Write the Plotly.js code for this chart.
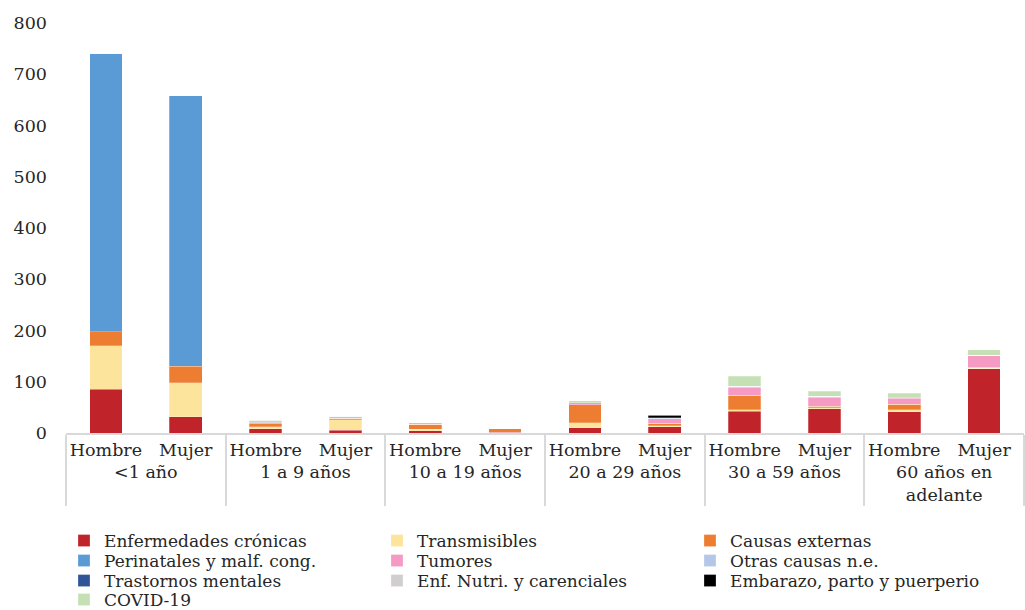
<!DOCTYPE html>
<html>
<head>
<meta charset="utf-8">
<script src="https://cdn.plot.ly/plotly-3.0.1.min.js"></script>
<style>html,body{margin:0;padding:0;background:#fff;}#chart{width:1025px;height:610px;}</style>
</head>
<body>
<div id="chart"></div>
<script>
// Age groups and sexes (x axis categories)
const ageGroups = ['<1 año', '1 a 9 años', '10 a 19 años', '20 a 29 años', '30 a 59 años', '60 años en<br>adelante'];
const sexes = ['Hombre', 'Mujer'];

// Values per bar, order: each age group -> Hombre, Mujer
const cronicas     = [85, 32, 8, 5, 4, 1, 10, 12, 42, 47, 41, 125];
const transmisibles= [85, 66, 4, 21, 3, 0, 10, 2, 3, 2, 4, 1];
const externas     = [28, 32, 6, 2.5, 10, 7, 35, 5, 29, 3, 11, 2];
const perinatales  = [543, 528, 0, 0, 0, 0, 0, 0, 0, 0, 0, 0];
const tumores      = [0, 0, 2, 0, 0, 0, 4.5, 8.5, 15, 18, 12, 23];
const otras        = [0, 0, 0, 4, 3, 0, 0, 1, 2.5, 2, 1, 1];
const trastornos   = [0, 0, 0, 0, 0, 0, 0, 1, 0, 0, 0, 0];
const nutri        = [0, 0, 5, 0, 0, 0, 0, 0, 0, 0, 0, 0];
const embarazo     = [0, 0, 0, 0, 0, 0, 0, 5, 0, 0, 0, 0];
const covid        = [0, 0, 0, 0, 0, 0, 3, 0, 19, 9, 9, 10];

const seriesNames = ['Enfermedades crónicas', 'Transmisibles', 'Causas externas',
  'Perinatales y malf. cong.', 'Tumores', 'Otras causas n.e.',
  'Trastornos mentales', 'Enf. Nutri. y carenciales', 'Embarazo, parto y puerperio', 'COVID-19'];
const seriesValues = [cronicas, transmisibles, externas, perinatales, tumores, otras, trastornos, nutri, embarazo, covid];
const seriesColors = ['#C0232A', '#FCE49C', '#ED7D31', '#5B9BD5', '#F49AC3', '#B4C7E7', '#2F5597', '#D0CECE', '#000000', '#C5E0B4'];

const xOuter = [], xInner = [];
ageGroups.forEach(g => sexes.forEach(s => { xOuter.push(g); xInner.push(s); }));

// legend rows: three entries per row, one Plotly legend per row
const legendIds = ['legend', 'legend2', 'legend3', 'legend4'];

const traces = seriesNames.map((name, i) => ({
  type: 'bar',
  name: name,
  x: [xOuter, xInner],
  y: seriesValues[i],
  legend: legendIds[Math.floor(i / 3)],
  marker: { color: seriesColors[i], line: { color: 'rgba(255,255,255,0.5)', width: 0.5 } },
  hoverinfo: 'y+name'
}));

const tickFont = { family: 'DejaVu Serif, serif', size: 17.5, color: '#262626' };

const layout = {
  width: 1025, height: 610,
  margin: { l: 66, r: 1, t: 23, b: 177 },
  paper_bgcolor: '#fff', plot_bgcolor: '#fff',
  barmode: 'stack',
  bargap: 0.59,
  font: { family: 'DejaVu Serif, serif', size: 16, color: '#262626' },
  showlegend: true,
  xaxis: {
    type: 'multicategory',
    showline: true, linecolor: '#D9D9D9', linewidth: 2,
    showdividers: true, dividercolor: '#D9D9D9', dividerwidth: 2,
    ticks: '', tickangle: 0, tickfont: tickFont,
    fixedrange: true
  },
  yaxis: {
    range: [0, 800], dtick: 100, tick0: 0,
    showgrid: false, zeroline: false, showline: false,
    ticks: '', ticklabelstandoff: 18,
    tickfont: tickFont,
    fixedrange: true
  }
};

const rowCenters = [541, 561, 581, 600];
legendIds.forEach((id, r) => {
  layout[id] = {
    orientation: 'h', traceorder: 'normal',
    xref: 'container', yref: 'container',
    x: 64 / 1025, xanchor: 'left',
    y: (610 - rowCenters[r]) / 610, yanchor: 'middle',
    entrywidth: 268, entrywidthmode: 'pixels',
    font: { family: 'DejaVu Serif, serif', size: 17, color: '#262626' },
    bgcolor: 'rgba(0,0,0,0)',
    itemclick: false, itemdoubleclick: false, tracegroupgap: 0
  };
});

Plotly.newPlot('chart', traces, layout, { displayModeBar: false, staticPlot: true });
</script>
</body>
</html>
